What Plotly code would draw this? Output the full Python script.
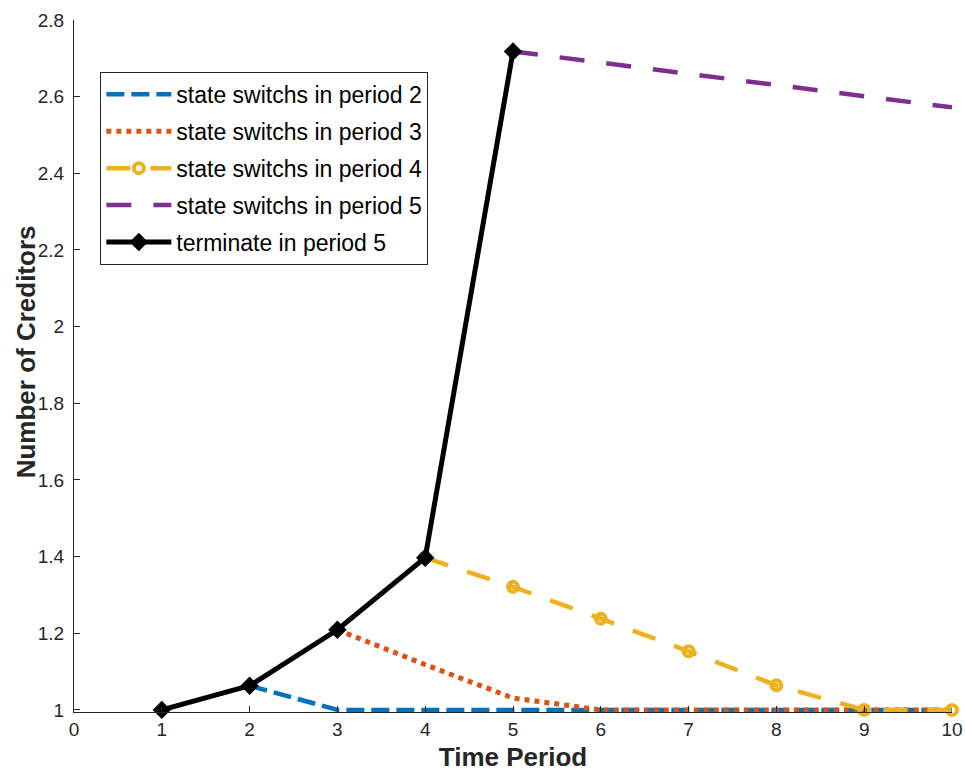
import plotly.graph_objects as go

# ---- data ----
switch2_x = [2, 3, 4, 5, 6, 7, 8, 9, 10]
switch2_y = [1.063, 1.0, 1.0, 1.0, 1.0, 1.0, 1.0, 1.0, 1.0]

switch3_x = [3, 4, 5, 6, 7, 8, 9, 10]
switch3_y = [1.209, 1.118, 1.031, 1.0, 1.0, 1.0, 1.0, 1.0]

switch4_x = [4, 5, 6, 7, 8, 9, 10]
switch4_y = [1.397, 1.321, 1.238, 1.153, 1.064, 1.0, 1.0]

switch5_x = [5, 6, 7, 8, 9, 10]
switch5_y = [2.718, 2.689, 2.659, 2.630, 2.601, 2.572]

term_x = [1, 2, 3, 4, 5]
term_y = [1.0, 1.063, 1.209, 1.397, 2.718]

names = [
    "state switchs in period 2",
    "state switchs in period 3",
    "state switchs in period 4",
    "state switchs in period 5",
    "terminate in period 5",
]

x_ticks = list(range(0, 11))
y_ticks = [1, 1.2, 1.4, 1.6, 1.8, 2, 2.2, 2.4, 2.6, 2.8]
y_tick_text = ["1", "1.2", "1.4", "1.6", "1.8", "2", "2.2", "2.4", "2.6", "2.8"]

x_title = "Time Period"
y_title = "Number of Creditors"

FONT = "Liberation Sans, Arial, Helvetica, sans-serif"

fig = go.Figure()

fig.add_trace(go.Scatter(
    x=switch2_x, y=switch2_y, mode="lines", name=names[0], legendgroup="a",
    line=dict(color="#0072BD", width=4.5, dash="18px,7px"),
))
fig.add_trace(go.Scatter(
    x=switch3_x, y=switch3_y, mode="lines", name=names[1], legendgroup="b",
    line=dict(color="#D95319", width=5, dash="5px,5px"),
))
fig.add_trace(go.Scatter(
    x=switch4_x, y=switch4_y, mode="lines+markers", name=names[2], legendgroup="c",
    line=dict(color="#EDB120", width=4.5, dash="24px,20px"),
    marker=dict(symbol="circle-open", size=10, color="#EDB120",
                line=dict(color="#EDB120", width=4)),
    cliponaxis=False,
))
fig.add_trace(go.Scatter(
    x=switch5_x, y=switch5_y, mode="lines", name=names[3], legendgroup="d",
    line=dict(color="#7E2F8E", width=4.5, dash="25px,22px"),
))
fig.add_trace(go.Scatter(
    x=term_x, y=term_y, mode="lines+markers", name=names[4], legendgroup="e",
    line=dict(color="black", width=5),
    marker=dict(symbol="diamond", size=12, color="black",
                line=dict(color="black", width=2)),
    cliponaxis=False,
))

fig.add_annotation(
    text="<b>" + y_title + "</b>", xref="paper", yref="paper",
    x=-0.0545, y=0.52, xanchor="center", yanchor="middle", textangle=-90,
    showarrow=False, font=dict(family=FONT, size=26, color="#262626"),
)

fig.update_layout(
    width=965, height=772,
    margin=dict(l=74, r=13, t=20, b=60, autoexpand=False),
    paper_bgcolor="white", plot_bgcolor="white",
    font=dict(family=FONT, size=19, color="#262626"),
    showlegend=True,
    legend=dict(
        x=0.03, y=0.925, xanchor="left", yanchor="top",
        bgcolor="white", bordercolor="#262626", borderwidth=1,
        font=dict(family=FONT, size=23, color="black"),
        tracegroupgap=4,
        itemwidth=65,
    ),
    xaxis=dict(
        range=[0, 10], tickvals=x_ticks, ticktext=[str(v) for v in x_ticks],
        showline=True, linecolor="#262626", linewidth=1,
        ticks="inside", ticklen=6, tickcolor="#262626",
        tickfont=dict(family=FONT, size=19, color="#262626"),
        showgrid=False, zeroline=False, mirror=False, automargin=False,
        title=dict(text="<b>" + x_title + "</b>", font=dict(family=FONT, size=26, color="#262626"),
                   standoff=11),
    ),
    yaxis=dict(
        range=[0.9945, 2.8], tickvals=y_ticks, ticktext=y_tick_text,
        showline=True, linecolor="#262626", linewidth=1,
        ticks="inside", ticklen=6, tickcolor="#262626",
        tickfont=dict(family=FONT, size=19, color="#262626"),
        ticklabelstandoff=5,
        showgrid=False, zeroline=False, mirror=False, automargin=False,
    ),
)

fig.write_html("out.html", config={"displayModeBar": False},
               post_script="document.body.style.margin='0px';")
